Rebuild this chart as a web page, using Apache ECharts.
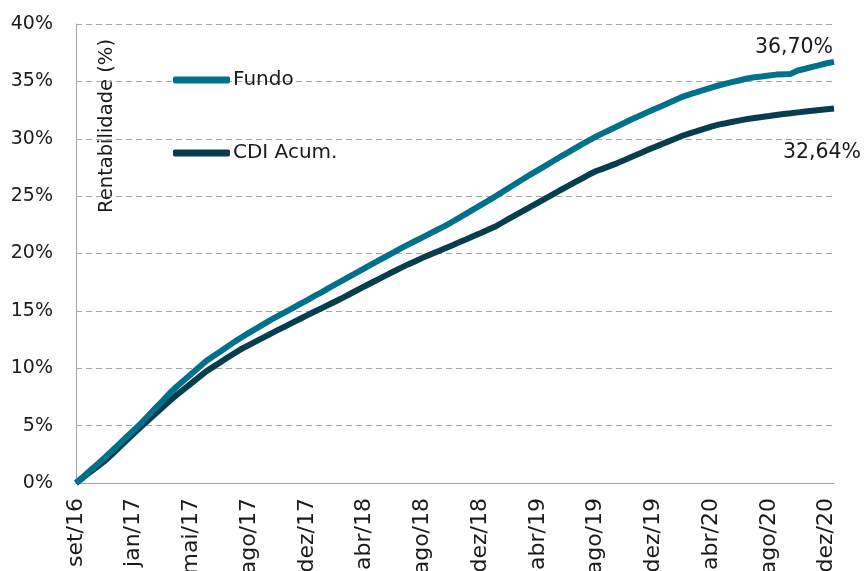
<!DOCTYPE html>
<html>
<head>
<meta charset="utf-8">
<script src="https://cdn.jsdelivr.net/npm/echarts@6/dist/echarts.min.js"></script>
<style>
html,body{margin:0;padding:0;background:#fff;}
#chart{width:864px;height:571px;}
</style>
</head>
<body>
<div id="chart"></div>
<script>
// Tick labels on the x axis (one every 8 points)
const tickLabels = ['set/16','jan/17','mai/17','ago/17','dez/17','abr/18','ago/18','dez/18','abr/19','ago/19','dez/19','abr/20','ago/20','dez/20'];
const pointsPerTick = 8;

const seriesNames = ['Fundo', 'CDI Acum.'];

// Fundo accumulated return (%)
const fundo = [
 0.00, 0.55, 1.11, 1.66, 2.22, 2.81, 3.40, 4.01, 4.60, 5.20,
 5.86, 6.52, 7.17, 7.84, 8.43, 8.97, 9.52,10.07,10.61,11.04,
11.46,11.89,12.32,12.72,13.10,13.47,13.84,14.22,14.56,14.90,
15.24,15.58,15.92,16.28,16.62,16.98,17.33,17.68,18.03,18.38,
18.73,19.08,19.42,19.76,20.10,20.44,20.77,21.09,21.41,21.73,
22.05,22.37,22.72,23.09,23.46,23.83,24.20,24.56,24.94,25.33,
25.73,26.12,26.51,26.90,27.27,27.64,28.02,28.39,28.75,29.12,
29.48,29.84,30.18,30.49,30.79,31.09,31.39,31.70,31.99,32.27,
32.55,32.82,33.10,33.38,33.65,33.87,34.06,34.26,34.46,34.64,
34.80,34.95,35.10,35.26,35.36,35.43,35.51,35.59,35.62,35.65,
35.95,36.10,36.26,36.42,36.58,36.70
];

// CDI accumulated (%)
const cdi = [
 0.00, 0.48, 0.97, 1.45, 1.93, 2.51, 3.10, 3.71, 4.30, 4.89,
 5.46, 6.03, 6.60, 7.17, 7.70, 8.20, 8.71, 9.21, 9.71,10.12,
10.52,10.93,11.33,11.71,12.04,12.36,12.69,13.02,13.34,13.65,
13.97,14.29,14.61,14.92,15.22,15.53,15.84,16.16,16.49,16.82,
17.15,17.47,17.79,18.11,18.43,18.75,19.05,19.33,19.62,19.89,
20.16,20.42,20.68,20.95,21.22,21.50,21.77,22.05,22.33,22.68,
23.04,23.39,23.74,24.09,24.44,24.79,25.14,25.49,25.83,26.17,
26.51,26.86,27.17,27.40,27.64,27.88,28.15,28.43,28.70,28.97,
29.24,29.49,29.75,30.00,30.26,30.47,30.66,30.86,31.06,31.23,
31.35,31.48,31.60,31.72,31.81,31.90,31.98,32.07,32.15,32.22,
32.30,32.37,32.44,32.51,32.58,32.64
];

const endLabels = ['36,70%', '32,64%'];

const categories = fundo.map((v, i) =>
  (i % pointsPerTick === 0 && tickLabels[i / pointsPerTick]) ? tickLabels[i / pointsPerTick] : '');

const FONT = '"DejaVu Sans", Verdana, sans-serif';
const TXT = '#1a1a1a';
const colors = ['#00718A', '#073D4F'];

const chart = echarts.init(document.getElementById('chart'), null, {renderer: 'canvas'});
chart.setOption({
  animation: false,
  backgroundColor: '#ffffff',
  grid: {left: 76, right: 30, top: 24, bottom: 88, containLabel: false, outerBoundsMode: 'none'},
  legend: {
    orient: 'vertical',
    left: 173,
    top: 70,
    padding: 0,
    itemWidth: 57,
    itemHeight: 7,
    itemGap: 53,
    icon: 'roundRect',
    textStyle: {fontFamily: FONT, fontSize: 20, color: TXT, padding: [0, 0, 0, -2]},
    data: seriesNames
  },
  graphic: [{
    type: 'text',
    left: 97,
    top: 39,
    rotation: Math.PI / 2,
    style: {text: 'Rentabilidade (%)', font: '19.5px ' + FONT, fill: TXT}
  }],
  xAxis: {
    type: 'category',
    data: categories,
    boundaryGap: false,
    axisLine: {lineStyle: {color: '#A6A6A6', width: 1}},
    axisTick: {show: false},
    axisLabel: {interval: 0, rotate: 90, margin: 15, fontFamily: FONT, fontSize: 22, color: TXT},
    splitLine: {show: false}
  },
  yAxis: {
    type: 'value',
    min: 0, max: 40, interval: 5,
    axisLine: {show: true, lineStyle: {color: '#A6A6A6', width: 1}},
    axisTick: {show: false},
    axisLabel: {margin: 23, fontFamily: FONT, fontSize: 19, color: TXT, formatter: v => v + '%'},
    splitLine: {lineStyle: {color: '#A6A6A6', type: [6, 4], width: 1}}
  },
  series: [
    {
      name: seriesNames[0], type: 'line', data: fundo, showSymbol: false, symbol: 'none',
      lineStyle: {color: colors[0], width: 6}, itemStyle: {color: colors[0]},
      markPoint: {
        symbol: 'circle', symbolSize: 0,
        data: [{coord: [fundo.length - 1, fundo[fundo.length - 1]]}],
        label: {show: true, formatter: endLabels[0], offset: [-40, -14], fontFamily: FONT, fontSize: 20.5, color: TXT}
      },
      z: 3
    },
    {
      name: seriesNames[1], type: 'line', data: cdi, showSymbol: false, symbol: 'none',
      lineStyle: {color: colors[1], width: 6}, itemStyle: {color: colors[1]},
      markPoint: {
        symbol: 'circle', symbolSize: 0,
        data: [{coord: [cdi.length - 1, cdi[cdi.length - 1]]}],
        label: {show: true, formatter: endLabels[1], offset: [-12, 44], fontFamily: FONT, fontSize: 20.5, color: TXT}
      },
      z: 2
    }
  ]
});
</script>
</body>
</html>
